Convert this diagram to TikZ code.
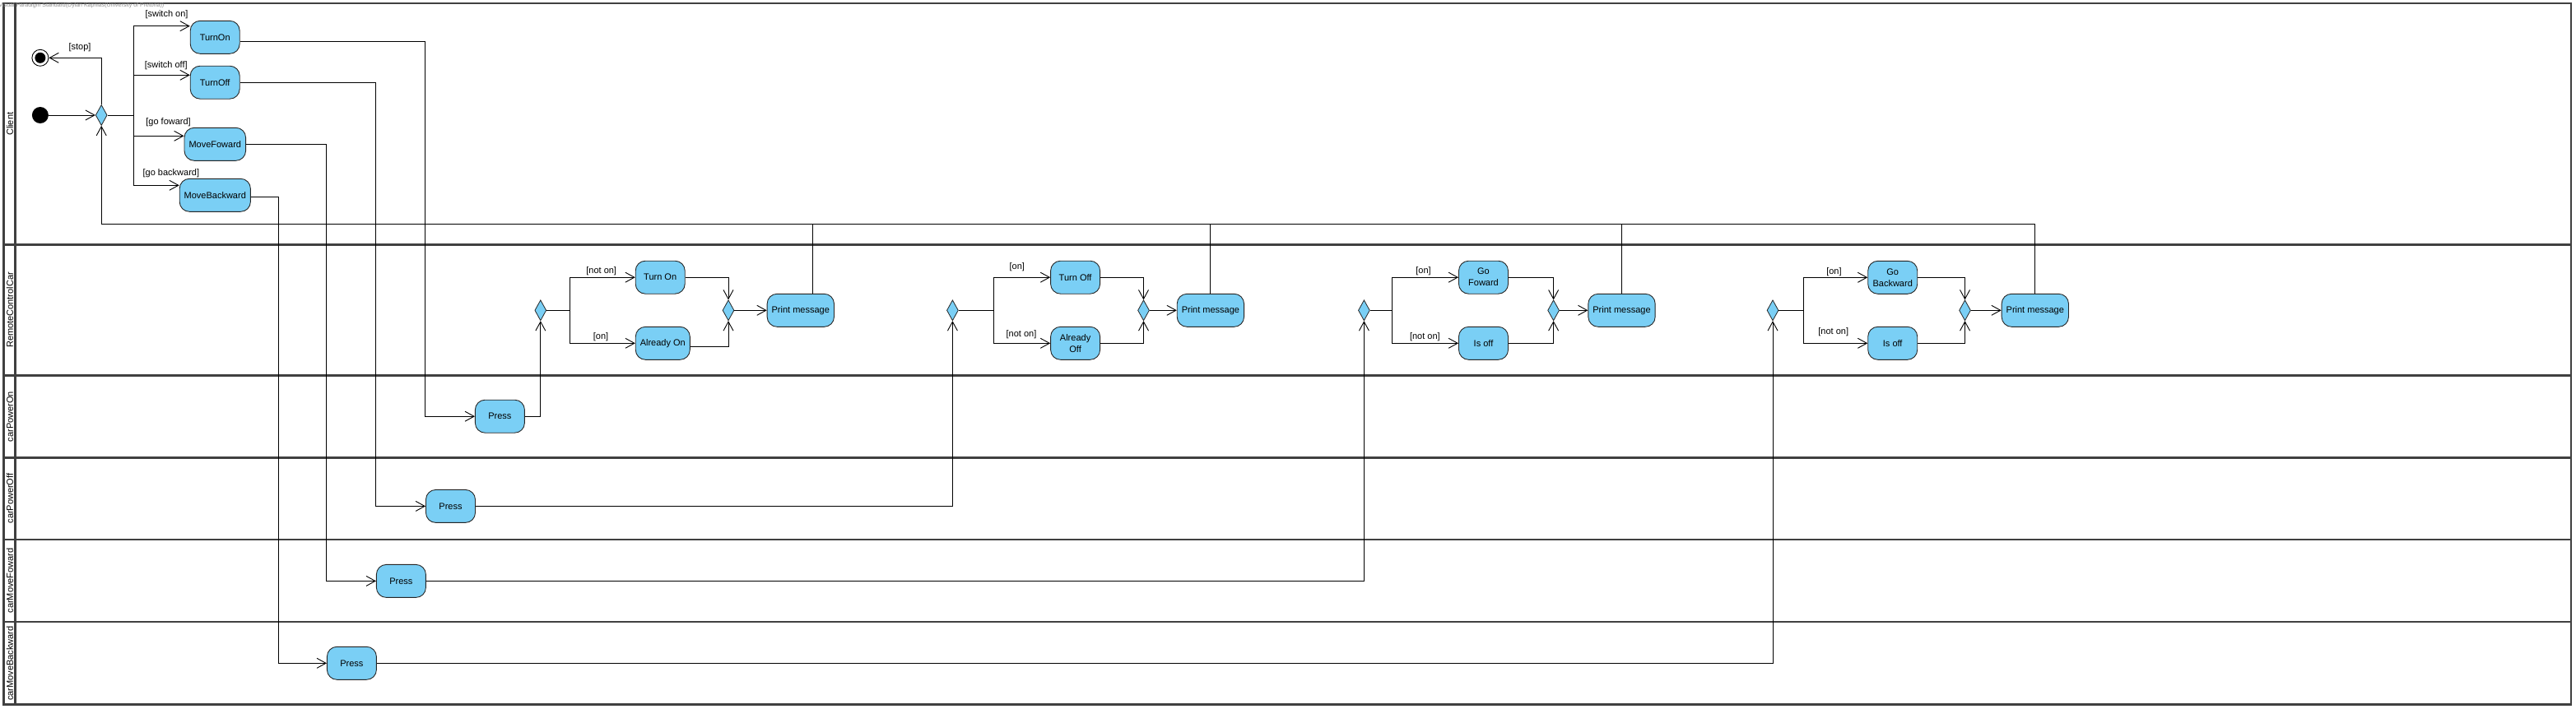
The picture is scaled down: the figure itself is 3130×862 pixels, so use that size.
\documentclass[tikz,border=0pt]{standalone}
\usepackage{fontspec}
\setmainfont{Liberation Sans}
\usetikzlibrary{shapes.geometric,arrows.meta,calc}
\definecolor{actblue}{RGB}{122,207,245}
\tikzset{
    action/.style={draw=black!85, fill=actblue, rounded corners=12pt, minimum width=60pt, minimum height=40pt, inner xsep=5.5pt, inner ysep=0pt, align=center, line width=0.9pt, font=\fontsize{11}{14}\selectfont},
    choice/.style={diamond, draw=black!85, fill=actblue, minimum width=14pt, minimum height=25pt, inner sep=0pt, line width=0.8pt},
    initnode/.style={circle, fill=black, minimum size=20pt, inner sep=0pt},
    finalnode/.style={circle, draw=black, line width=0.9pt, minimum size=20pt, inner sep=0pt, path picture={\fill[black] (path picture bounding box.center) circle (6.5pt);}},
    flow/.style={line width=0.9pt, -{Straight Barb[length=11pt,width=12pt,line width=0.9pt]}},
    link/.style={line width=0.9pt},
    guard/.style={font=\fontsize{11}{13}\selectfont, inner sep=1pt},
    lane/.style={line width=2.4pt, draw=black!75},
    lanename/.style={rotate=90, font=\fontsize{11}{13}\selectfont, inner sep=0pt}
}
\begin{document}
\begin{tikzpicture}[x=1pt,y=-1pt]
    \useasboundingbox (0,0) rectangle (3130,862);
    \draw[lane] (4.3,4) rectangle (3124,856.5);
    \draw[lane] (18.6,4)--(18.6,856.5);
    \draw[lane] (4.3,297.5)--(3124,297.5);
    \draw[lane] (4.3,456.5)--(3124,456.5);
    \draw[lane] (4.3,556.5)--(3124,556.5);
    \draw[lane] (4.3,656)--(3124,656);
    \draw[lane] (4.3,756)--(3124,756);
    \node[anchor=west, text=black!45, font=\fontsize{7}{8}\selectfont, inner sep=0pt](hdr) at (-1.5,7) {Visual Paradigm Standard(Dylan Kapnias(University of Pretoria))};
    \node[lanename](lclient) at (12,150.8) {Client};
    \node[lanename](lcar) at (12,377) {RemoteControlCar};
    \node[lanename](lon) at (12,506.5) {carPowerOn};
    \node[lanename](loff) at (12,606) {carPowerOff};
    \node[lanename](lfwd) at (12,706) {carMoveFoward};
    \node[lanename](lback) at (12,806.5) {carMoveBackward};

    \node[initnode](init) at (48.9,140) {};
    \node[finalnode](final) at (48.9,70.3) {};
    \node[choice](dec) at (123.2,140) {};
    \node[action](turnon) at (261.2,45.3) {TurnOn};
    \node[action](turnoff) at (261.2,100.2) {TurnOff};
    \node[action](movefwd) at (261.3,175.3) {MoveFoward};
    \node[action](moveback) at (261.3,237.3) {MoveBackward};
    \node[guard](gstop) at (97,57.3) {[stop]};
    \node[guard](gon) at (202.5,17.3) {[switch on]};
    \node[guard](goff) at (201.8,79.3) {[switch off]};
    \node[guard](gfwd) at (204.6,148.3) {[go foward]};
    \node[guard](gback) at (207.9,210.3) {[go backward]};

    \node[action](press1) at (607.4,506.2) {Press};
    \node[action](press2) at (547.5,615.4) {Press};
    \node[action](press3) at (487.4,706.4) {Press};
    \node[action](press4) at (427.4,806.3) {Press};

    \node[choice](d1) at (656.8,377.3) {};
    \node[action](turnonc) at (802.2,337.2) {Turn On};
    \node[action](alreadyon) at (805.3,417.3) {Already On};
    \node[choice](m1) at (885,377.3) {};
    \node[action](pm1) at (972.8,377.3) {Print message};
    \node[guard](g1a) at (730.7,330) {[not on]};
    \node[guard](g1b) at (730,409.3) {[on]};

    \node[choice](d2) at (1157.4,377.3) {};
    \node[action](turnoffc) at (1306.6,337.2) {Turn Off};
    \node[action](alreadyoff) at (1306.6,417.3) {Already\\Off};
    \node[choice](m2) at (1389.5,377.3) {};
    \node[action](pm2) at (1470.9,377.3) {Print message};
    \node[guard](g2a) at (1235.8,325) {[on]};
    \node[guard](g2b) at (1241,406.7) {[not on]};

    \node[choice](d3) at (1657.4,377.3) {};
    \node[action](gofwd) at (1802.5,337.2) {Go\\Foward};
    \node[action](isoff3) at (1802.5,417.3) {Is off};
    \node[choice](m3) at (1887.6,377.3) {};
    \node[action](pm3) at (1970.5,377.3) {Print message};
    \node[guard](g3a) at (1729.5,330) {[on]};
    \node[guard](g3b) at (1731.4,409.3) {[not on]};

    \node[choice](d4) at (2154,377.3) {};
    \node[action](goback) at (2299.7,337.3) {Go\\Backward};
    \node[action](isoff4) at (2299.7,417.3) {Is off};
    \node[choice](m4) at (2387.5,377.3) {};
    \node[action](pm4) at (2472.8,377.3) {Print message};
    \node[guard](g4a) at (2228.4,330.7) {[on]};
    \node[guard](g4b) at (2227.7,403.3) {[not on]};

    \coordinate (trunk) at (162.5,140);
    \coordinate (back) at (123.2,272.3);
    \draw[flow] (init)--(dec);
    \draw[flow] (dec.north) |- (final.east);
    \draw[link] (dec.east)--(trunk);
    \draw[flow] (trunk) |- ($(turnon.west)+(0,-13.6)$);
    \draw[flow] (trunk) |- ($(turnoff.west)+(0,-8.9)$);
    \draw[flow] (trunk) |- ($(movefwd.west)+(0,-10)$);
    \draw[flow] (trunk) |- ($(moveback.west)+(0,-12)$);

    \draw[flow] ($(turnon.east)+(0,5)$) -| (516.4,506.2)--(press1.west);
    \draw[flow] (turnoff.east) -| (456.4,615.4)--(press2.west);
    \draw[flow] (movefwd.east) -| (396.4,706.4)--(press3.west);
    \draw[flow] ($(moveback.east)+(0,2)$) -| (338.2,806.3)--(press4.west);

    \draw[flow] (press1.east) -| (d1.south);
    \draw[flow] (press2.east) -| (d2.south);
    \draw[flow] (press3.east) -| (d3.south);
    \draw[flow] (press4.east) -| (d4.south);

    \coordinate (s1) at (692.5,377.3);
    \draw[link] (d1.east)--(s1);
    \draw[flow] (s1) |- (turnonc.west);
    \draw[flow] (s1) |- (alreadyon.west);
    \draw[flow] (turnonc.east) -| (m1.north);
    \draw[flow] ($(alreadyon.east)+(0,4)$) -| (m1.south);
    \draw[flow] (m1)--(pm1);

    \coordinate (s2) at (1207.1,377.3);
    \draw[link] (d2.east)--(s2);
    \draw[flow] (s2) |- (turnoffc.west);
    \draw[flow] (s2) |- (alreadyoff.west);
    \draw[flow] (turnoffc.east) -| (m2.north);
    \draw[flow] (alreadyoff.east) -| (m2.south);
    \draw[flow] (m2)--(pm2);

    \coordinate (s3) at (1691.8,377.3);
    \draw[link] (d3.east)--(s3);
    \draw[flow] (s3) |- (gofwd.west);
    \draw[flow] (s3) |- (isoff3.west);
    \draw[flow] (gofwd.east) -| (m3.north);
    \draw[flow] (isoff3.east) -| (m3.south);
    \draw[flow] (m3)--(pm3);

    \coordinate (s4) at (2191.9,377.3);
    \draw[link] (d4.east)--(s4);
    \draw[flow] (s4) |- (goback.west);
    \draw[flow] (s4) |- (isoff4.west);
    \draw[flow] (goback.east) -| (m4.north);
    \draw[flow] (isoff4.east) -| (m4.south);
    \draw[flow] (m4)--(pm4);

    \coordinate (p1) at ($(pm1.north)+(14.3,0)$);
    \draw[link] (p1)--(p1 |- back);
    \draw[link] (pm2.north)--(pm2.north |- back);
    \draw[link] (pm3.north)--(pm3.north |- back);
    \draw[flow] (pm4.north) |- (back)--(dec.south);
\end{tikzpicture}
\end{document}
